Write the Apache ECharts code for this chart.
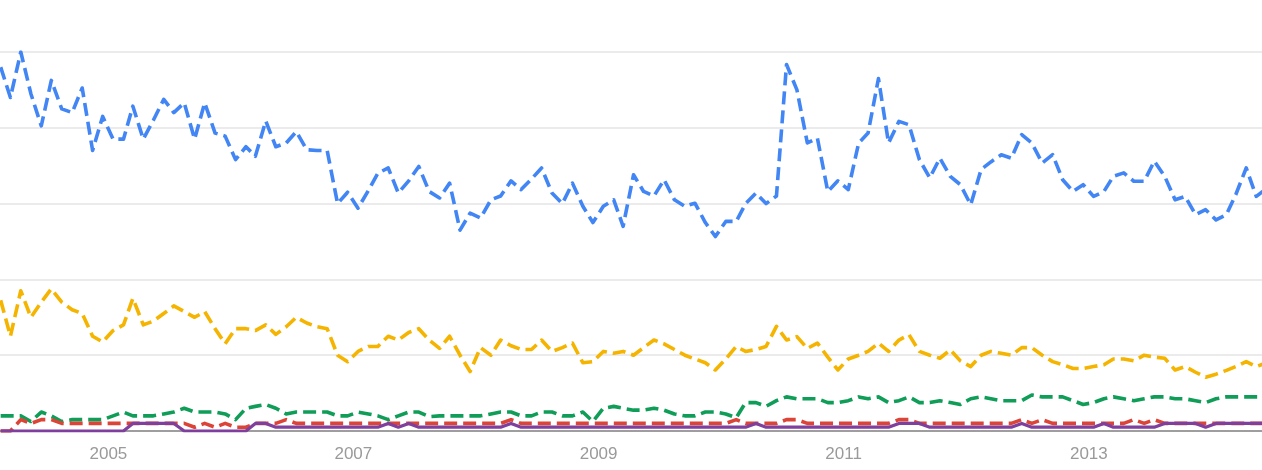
<!DOCTYPE html>
<html>
<head>
<meta charset="utf-8">
<script src="https://cdn.jsdelivr.net/npm/echarts@6/dist/echarts.min.js"></script>
<style>
  html, body { margin: 0; padding: 0; background: #fff; }
  #chart { width: 1262px; height: 470px; }
</style>
</head>
<body>
<div id="chart"></div>
<script>
// ---- data (monthly, first point Feb 2004) ----
const firstYear = 2004;
const firstMonth = 2; // February
const pointCount = 125;

const tickYears = ['2005', '2007', '2009', '2011', '2013'];

const blueValues = [
  96, 88, 100, 89, 80.5, 92.5, 85, 84, 90.5, 74,
  83, 77, 77, 85.7, 77, 82, 87.5, 84, 86.6, 77,
  86.6, 78.6, 77.8, 71.6, 75, 72.5, 81.8, 75, 76, 79,
  74.2, 74, 74, 60, 63, 58.8, 63.5, 68, 69.4, 62.8,
  66, 69.8, 63.2, 61.5, 65.4, 53, 57.5, 56.2, 61, 62,
  66, 63.7, 66.5, 69.4, 62.8, 60, 65.4, 59.3, 55, 59.3,
  61, 54, 67.6, 63.2, 62, 66.3, 61, 59.3, 60.1, 55,
  51.3, 55.3, 55.3, 60, 62.8, 60, 62, 96.7, 90, 76,
  77.3, 63.2, 66, 63.7, 76, 78.6, 93, 76, 81.7, 80.8,
  71.6, 66.8, 72, 67.2, 65, 59.7, 69, 71, 72.9, 72,
  78.2, 76, 70.7, 72.9, 66.3, 63.2, 65, 61.9, 63.2, 67.2,
  68.1, 65.9, 65.9, 71.2, 67.2, 61, 61.9, 57.1, 58.4, 55.7,
  57.1, 62.4, 69.4, 61.9, 64
];

const yellowValues = [
  34.5, 25, 37, 30, 34, 37.5, 34, 32, 31, 25,
  23.5, 26.5, 28, 35, 28, 29, 31, 33, 31.5, 30,
  31.5, 27, 23, 27, 27, 26.5, 28, 25.5, 27.5, 30,
  28.5, 27.5, 27, 20, 18.3, 21, 22.3, 22.3, 25, 24,
  26, 27, 24, 21.8, 25, 20, 15.7, 22, 20, 24,
  22.5, 21.5, 21.5, 24, 21, 22, 23.2, 18, 18.3, 21,
  20.5, 21, 20, 22, 24, 23, 21.5, 20, 19, 18,
  16.1, 19, 22.3, 21, 21.5, 22.3, 27.6, 24, 24.9, 21.8,
  23.2, 19.5, 16.1, 19, 20, 21, 23.2, 21, 24, 25.4,
  21, 20, 19.2, 21.4, 18.5, 17, 20, 21, 20.5, 20,
  22, 22, 20, 18.3, 17.5, 16.5, 16.5, 17, 17.5, 19,
  19, 18.5, 20, 19.5, 19.2, 16.1, 17, 15.5, 14.2, 15,
  16, 17, 18.3, 17, 18
];

const greenValues = [
  4, 4, 4, 2.5, 5, 4, 2.5, 3, 3, 3,
  3, 4, 5, 4, 4, 4, 4.5, 5, 6, 5,
  5, 5, 4.5, 3, 6, 6.5, 7, 6, 4.5, 5,
  5, 5, 5, 4, 4, 5, 4.5, 4, 3, 4,
  5, 5, 3.8, 4, 4, 4, 4, 4, 4.5, 5,
  5, 4, 4, 5, 5, 4, 4, 5, 2.5, 6,
  6.5, 6, 5.5, 5.5, 6, 5.5, 4.5, 4, 4, 5,
  5, 4.5, 3.5, 7.5, 7.5, 6.5, 8, 9, 8.5, 8.5,
  8.5, 7.5, 7.5, 8, 9, 8.5, 9, 7.5, 8, 9,
  7.5, 7.5, 8, 7.5, 7, 8.5, 9, 8.5, 8, 8,
  8, 9.5, 9, 9, 9, 8, 7, 7.5, 8.5, 9,
  8.5, 8, 8.5, 9, 9, 8.5, 8.5, 8, 7.5, 8.5,
  9, 9, 9, 9, 9
];

const redValues = [
  0, 0, 3, 2, 3, 3, 2, 2, 2, 2,
  2, 2, 2, 2, 2, 2, 2, 2, 2, 1,
  2, 1, 2, 1, 1, 2, 2, 2, 3, 2,
  2, 2, 2, 2, 2, 2, 2, 2, 2, 2,
  2, 2, 2, 2, 2, 2, 2, 2, 2, 2,
  3, 2, 2, 2, 2, 2, 2, 2, 2, 2,
  2, 2, 2, 2, 2, 2, 2, 2, 2, 2,
  2, 2, 3, 2, 2, 2, 2, 3, 3, 2,
  2, 2, 2, 2, 2, 2, 2, 2, 3, 3,
  2, 2, 2, 2, 2, 2, 2, 2, 2, 2,
  3, 2, 3, 2, 2, 2, 2, 2, 2, 2,
  2, 3, 2, 3, 2, 2, 2, 2, 2, 2,
  2, 2, 2, 2, 2
];

const purpleValues = [
  0, 0, 0, 0, 0, 0, 0, 0, 0, 0,
  0, 0, 0, 2, 2, 2, 2, 2, 0, 0,
  0, 0, 0, 0, 0, 2, 2, 1, 1, 1,
  1, 1, 1, 1, 1, 1, 1, 1, 2, 1,
  2, 1, 1, 1, 1, 1, 1, 1, 1, 1,
  2, 1, 1, 1, 1, 1, 1, 1, 1, 1,
  1, 1, 1, 1, 1, 1, 1, 1, 1, 1,
  1, 1, 1, 1, 2, 1, 1, 1, 1, 1,
  1, 1, 1, 1, 1, 1, 1, 1, 2, 2,
  2, 1, 1, 1, 1, 1, 1, 1, 1, 1,
  2, 1, 1, 1, 1, 1, 1, 1, 2, 1,
  1, 1, 1, 1, 2, 2, 2, 2, 1, 2,
  2, 2, 2, 2, 2
];

// month categories (plotted at mid-month, as timestamps on a value axis)
const months = [];
for (let i = 0; i < pointCount; i++) {
  const m0 = firstMonth - 1 + i;
  const y = firstYear + Math.floor(m0 / 12);
  const m = (m0 % 12) + 1;
  months.push(y + '-' + String(m).padStart(2, '0'));
}
const toTime = (ym) => Date.UTC(Number(ym.slice(0, 4)), Number(ym.slice(5, 7)) - 1, 15);
const pairs = (vals) => vals.map((v, i) => [toTime(months[i]), v]);
const yearTime = (y) => Date.UTC(Number(y), 0, 1);

const chart = echarts.init(document.getElementById('chart'), null, { renderer: 'canvas' });

function dashed(name, color, vals, z) {
  return {
    name, type: 'line', data: pairs(vals), showSymbol: false, symbol: 'none',
    z, lineStyle: { color, width: 3.6, type: [13, 6], cap: 'butt', join: 'round' },
    itemStyle: { color }
  };
}

chart.setOption({
  animation: false,
  backgroundColor: '#ffffff',
  grid: { left: 0, right: 0, top: 52, bottom: 39, containLabel: false },
  xAxis: {
    type: 'value',
    min: Date.UTC(2004, 1, 13),
    max: Date.UTC(2014, 5, 1),
    axisLine: { show: true, onZero: false, lineStyle: { color: '#9e9e9e', width: 2 } },
    axisTick: { show: false },
    splitLine: { show: false },
    axisLabel: {
      show: true,
      customValues: tickYears.map(yearTime),
      formatter: (v) => String(new Date(v).getUTCFullYear()),
      color: '#9a9a9a',
      fontFamily: 'Arial',
      fontSize: 17,
      margin: 15,
      hideOverlap: false,
      showMinLabel: true,
      showMaxLabel: true
    }
  },
  yAxis: {
    type: 'value', min: 0, max: 100, interval: 20,
    axisLine: { show: false }, axisTick: { show: false },
    axisLabel: { show: false },
    splitLine: { show: true, lineStyle: { color: '#ebebeb', width: 2 } }
  },
  series: [
    dashed('Blue', '#4285f4', blueValues, 2),
    dashed('Yellow', '#f4b400', yellowValues, 3),
    dashed('Green', '#0f9d58', greenValues, 4),
    dashed('Red', '#db4437', redValues, 5),
    {
      name: 'Purple', type: 'line', data: pairs(purpleValues), showSymbol: false, symbol: 'none',
      z: 6, lineStyle: { color: '#7e3f9d', width: 3.2, type: 'solid', join: 'round' },
      itemStyle: { color: '#7e3f9d' }
    }
  ]
});
</script>
</body>
</html>
